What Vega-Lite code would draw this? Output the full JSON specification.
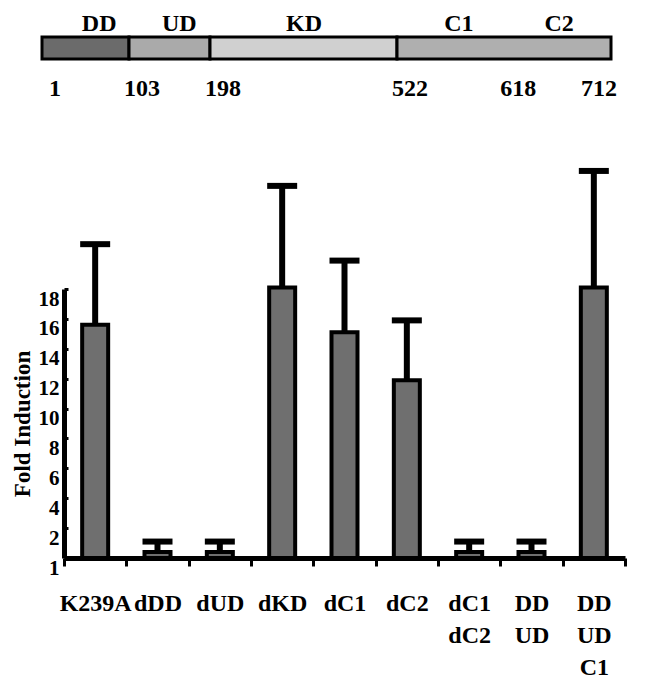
{
  "$schema": "https://vega.github.io/schema/vega-lite/v6.json",
  "padding": {"left": 11, "top": 12, "right": 12, "bottom": 0},
  "background": "white",
  "spacing": 66,
  "config": {
    "view": {"stroke": null},
    "font": "Liberation Serif",
    "axis": {"labelFont": "Liberation Serif", "titleFont": "Liberation Serif", "labelOverlap": false, "labelBound": false,
             "labelColor": "black", "titleColor": "black", "domainColor": "black", "tickColor": "black", "grid": false},
    "axisY": {"labelFontSize": 21, "labelFontWeight": "bold", "titleFontSize": 23, "titleFontWeight": "bold",
              "titlePadding": 4, "labelPadding": 9, "tickSize": -4, "tickWidth": 3, "domainWidth": 5, "labelOffset": 10, "labelFlush": false},
    "axisX": {"labelFontSize": 24, "labelFontWeight": "bold", "labelPadding": 25, "tickSize": 8, "tickWidth": 3,
              "domainWidth": 5, "labelLineHeight": 32, "labelAngle": 0},
    "text": {"font": "Liberation Serif"}
  },
  "datasets": {
    "domains": [
      {"domain": "DD", "start": 1, "end": 103},
      {"domain": "UD", "start": 103, "end": 198},
      {"domain": "KD", "start": 198, "end": 522},
      {"domain": "C1-C2", "start": 522, "end": 712}
    ],
    "domainLabels": [
      {"label": "DD", "pos": 68},
      {"label": "UD", "pos": 162},
      {"label": "KD", "pos": 361},
      {"label": "C1", "pos": 577},
      {"label": "C2", "pos": 666}
    ],
    "residues": [
      {"residue": 1}, {"residue": 103}, {"residue": 198},
      {"residue": 522}, {"residue": 618}, {"residue": 712}
    ],
    "induction": [
      {"construct": "K239A", "value": 15.6, "upper": 21.0},
      {"construct": "dDD", "value": 0.4, "upper": 1.1},
      {"construct": "dUD", "value": 0.4, "upper": 1.1},
      {"construct": "dKD", "value": 18.1, "upper": 24.9},
      {"construct": "dC1", "value": 15.1, "upper": 19.9},
      {"construct": "dC2", "value": 11.9, "upper": 15.9},
      {"construct": "dC1 dC2", "value": 0.4, "upper": 1.1},
      {"construct": "DD UD", "value": 0.4, "upper": 1.1},
      {"construct": "DD UD C1", "value": 18.1, "upper": 25.9}
    ]
  },
  "vconcat": [
    {
      "width": 547,
      "height": 22,
      "layer": [
        {
          "data": {"name": "domains"},
          "mark": {"type": "rect", "stroke": "black", "strokeWidth": 3, "opacity": 1},
          "encoding": {
            "x": {"field": "start", "type": "quantitative",
                  "scale": {"domain": [1, 103, 198, 522, 712], "range": [-22, 65, 146, 333, 547], "zero": false, "nice": false},
                  "axis": null},
            "x2": {"field": "end"},
            "color": {"field": "domain", "type": "nominal",
                      "scale": {"domain": ["DD", "UD", "KD", "C1-C2"], "range": ["#6b6b6b", "#aaaaaa", "#d0d0d0", "#afafaf"]},
                      "legend": null}
          }
        },
        {
          "data": {"name": "domainLabels"},
          "mark": {"type": "text", "fontSize": 24, "fontWeight": "bold", "dy": -24, "color": "black"},
          "encoding": {
            "x": {"field": "pos", "type": "quantitative"},
            "text": {"field": "label"}
          }
        },
        {
          "data": {"name": "residues"},
          "mark": {"type": "text", "fontSize": 24, "fontWeight": "bold", "dy": 41, "color": "black",
                   "dx": {"expr": "datum.residue == 712 ? -12 : 13"}},
          "encoding": {
            "x": {"field": "residue", "type": "quantitative"},
            "text": {"field": "residue", "type": "quantitative", "format": "d"}
          }
        }
      ]
    },
    {
      "width": 561,
      "height": 269,
      "data": {"name": "induction"},
      "encoding": {
        "x": {"field": "construct", "type": "nominal", "sort": null,
              "scale": {"paddingInner": 0, "paddingOuter": 0},
              "axis": {"title": null, "labelExpr": "split(datum.label, ' ')", "tickBand": "extent", "labelOverlap": false}}
      },
      "layer": [
        {
          "mark": {"type": "rule", "strokeWidth": 6, "color": "black", "opacity": 1},
          "encoding": {
            "y": {"field": "value", "type": "quantitative",
                  "scale": {"domain": [0, 18], "nice": false, "zero": true},
                  "axis": {"title": "Fold Induction", "values": [0, 2, 4, 6, 8, 10, 12, 14, 16, 18], "tickCount": 20,
                           "labelExpr": "datum.value == 0 ? '1' : datum.label",
                           "titleFontSize": 23, "titleFontWeight": "bold",
                           "labelOverlap": false, "labelBound": false}},
            "y2": {"field": "upper"}
          }
        },
        {
          "mark": {"type": "bar", "width": 26, "fill": "#6f6f6f", "stroke": "black", "strokeWidth": 4, "opacity": 1},
          "encoding": {
            "y": {"field": "value", "type": "quantitative"}
          }
        },
        {
          "mark": {"type": "tick", "size": 30, "thickness": 6, "color": "black", "opacity": 1},
          "encoding": {
            "y": {"field": "upper", "type": "quantitative"}
          }
        }
      ]
    }
  ]
}
